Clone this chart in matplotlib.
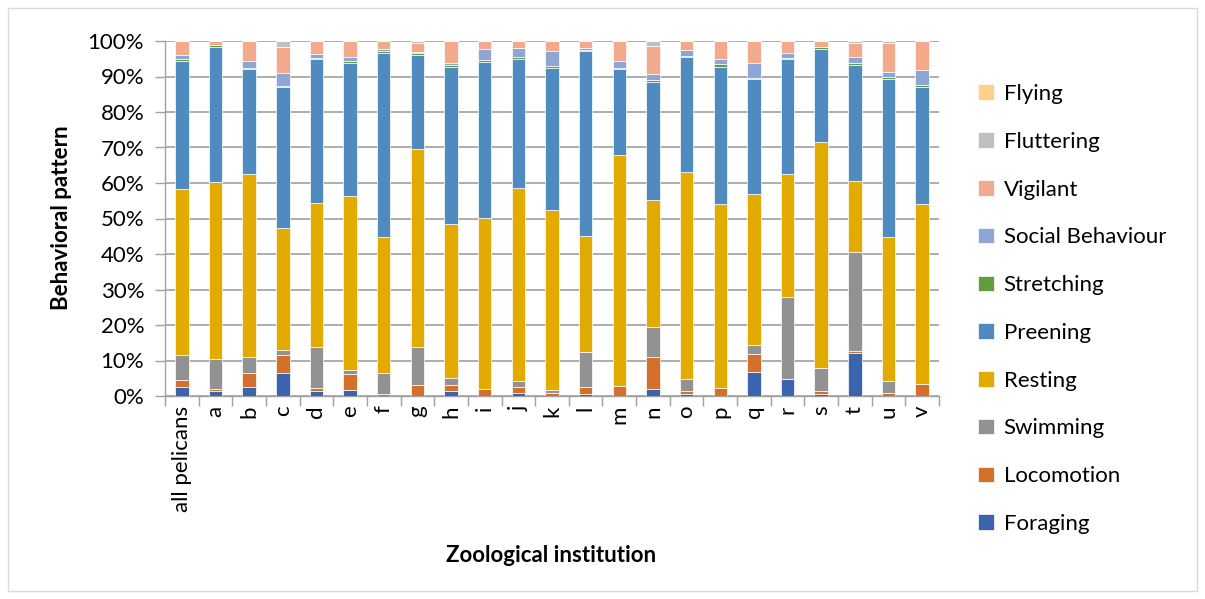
import matplotlib.pyplot as plt
import numpy as np
from matplotlib.patches import Rectangle
from matplotlib.ticker import FixedLocator, FuncFormatter

plt.rcParams['font.family'] = ['Lato', 'DejaVu Sans']

institutions = ['all pelicans', 'a', 'b', 'c', 'd', 'e', 'f', 'g', 'h', 'i', 'j', 'k',
                'l', 'm', 'n', 'o', 'p', 'q', 'r', 's', 't', 'u', 'v']

# share of each behaviour (%), bottom to top
foraging   = [2.6, 1.5, 2.6, 6.6, 1.5, 1.7, 0, 0, 1.5, 0, 0.9, 0, 0.6, 0, 1.9, 0.6, 0, 6.9, 4.9, 0.6, 12.2, 0, 0]
locomotion = [1.9, 0.4, 3.9, 5.0, 0.7, 4.6, 0.7, 3.0, 1.5, 1.9, 1.5, 0.9, 1.9, 2.7, 9.2, 0.9, 2.3, 4.8, 0, 0.8, 0.5, 0.9, 3.5]
swimming   = [7.1, 8.5, 4.6, 1.4, 11.5, 0.9, 5.7, 10.9, 2.0, 0.1, 1.7, 0.7, 10.0, 0, 8.2, 3.2, 0, 2.6, 22.9, 6.6, 28.0, 3.3, 0]
resting    = [46.6, 49.9, 51.3, 34.4, 40.8, 49.2, 38.3, 55.6, 43.5, 48.2, 54.6, 50.9, 32.7, 65.2, 36.0, 58.5, 51.7, 42.5, 34.8, 63.6, 20.0, 40.7, 50.7]
preening   = [36.2, 37.9, 29.7, 39.7, 40.4, 37.3, 51.8, 26.6, 44.3, 43.8, 36.3, 39.8, 51.9, 24.1, 33.2, 32.2, 38.6, 32.4, 32.3, 26.1, 32.6, 44.3, 32.9]
stretching = [0.4, 0.6, 0.3, 0.3, 0.4, 0.7, 0.8, 0.4, 0.3, 0.7, 0.4, 0.7, 0.4, 0.4, 0.5, 0.3, 1.0, 0.5, 0.4, 0.7, 0.4, 0.7, 0.5]
social     = [1.2, 0.1, 2.1, 3.7, 0.9, 1.1, 0.5, 0.4, 0.6, 3.0, 2.7, 4.1, 0.5, 2.1, 1.6, 1.8, 1.3, 4.2, 1.4, 0, 1.8, 1.5, 4.3]
vigilant   = [4.0, 1.1, 5.5, 7.3, 3.8, 4.5, 2.2, 2.6, 6.3, 2.3, 1.9, 2.9, 2.0, 5.5, 8.1, 2.5, 5.1, 6.1, 3.3, 1.6, 3.8, 8.1, 8.1]
fluttering = [0, 0, 0, 1.6, 0, 0, 0, 0.5, 0, 0, 0, 0, 0, 0, 1.3, 0, 0, 0, 0, 0, 0.7, 0.5, 0]
flying     = [0] * 23

names = ['Foraging', 'Locomotion', 'Swimming', 'Resting', 'Preening', 'Stretching',
         'Social Behaviour', 'Vigilant', 'Fluttering', 'Flying']
colors = ['#3a64ae', '#d3702c', '#929292', '#e3ab00', '#4f8bbf', '#639b3f',
          '#8fa5d6', '#f2a98c', '#bfbfbf', '#ffd08a']

data = np.array([foraging, locomotion, swimming, resting, preening, stretching,
                 social, vigilant, fluttering, flying], dtype=float)
data = data / data.sum(axis=0) * 100

W, H = 1205, 599
FS = 16
fig = plt.figure(figsize=(W / 100, H / 100), dpi=100)
fig.patches.append(Rectangle((8 / W, 8 / H), 1189 / W, 583 / H, transform=fig.transFigure,
                             fill=False, edgecolor='#d9d9d9', linewidth=1))
ax = fig.add_axes([165 / W, 1 - 396 / H, (939 - 165) / W, (396 - 41) / H])

x = np.arange(len(institutions))
bottom = np.zeros(len(institutions))
handles = []
for vals, name, c in zip(data, names, colors):
    b = ax.bar(x, vals, bottom=bottom, width=0.4, color=c, edgecolor='white',
               linewidth=0.5, label=name, zorder=3)
    handles.append(b)
    bottom += vals

ax.set_xlim(-0.5, len(institutions) - 0.5)
ax.set_ylim(0, 100)
ax.set_yticks(np.arange(0, 101, 10))
ax.yaxis.set_major_formatter(FuncFormatter(lambda v, p: f'{int(v)}%'))
ax.yaxis.grid(True, color='#a0a0a0', linewidth=1.2, zorder=0)
ax.set_axisbelow(True)

ax.set_xticks(x)
ax.set_xticklabels(institutions, rotation=90)
ax.xaxis.set_minor_locator(FixedLocator(np.arange(-0.5, len(institutions), 1)))
ax.tick_params(axis='x', which='major', length=0, pad=7, labelsize=FS)
ax.tick_params(axis='x', which='minor', length=7, color='#a0a0a0', width=1)
ax.tick_params(axis='y', length=7, color='#a0a0a0', width=1, labelsize=FS, pad=8)

for s in ['top', 'right']:
    ax.spines[s].set_visible(False)
for s in ['left', 'bottom']:
    ax.spines[s].set_color('#a0a0a0')
    ax.spines[s].set_linewidth(1)

fig.text(61 / W, 1 - 218 / H, 'Behavioral pattern', rotation=90, fontsize=FS,
         fontweight='bold', ha='center', va='center')
fig.text(551 / W, 1 - 556 / H, 'Zoological institution', fontsize=FS,
         fontweight='bold', ha='center', va='center')

leg = fig.legend(handles[::-1], names[::-1], loc='upper left',
                 bbox_to_anchor=(958 / W, 1 - 64 / H), frameon=False, fontsize=FS,
                 handlelength=0.7, handleheight=0.7, handletextpad=0.45,
                 labelspacing=1.25)

fig.savefig('out.png', dpi=100)
